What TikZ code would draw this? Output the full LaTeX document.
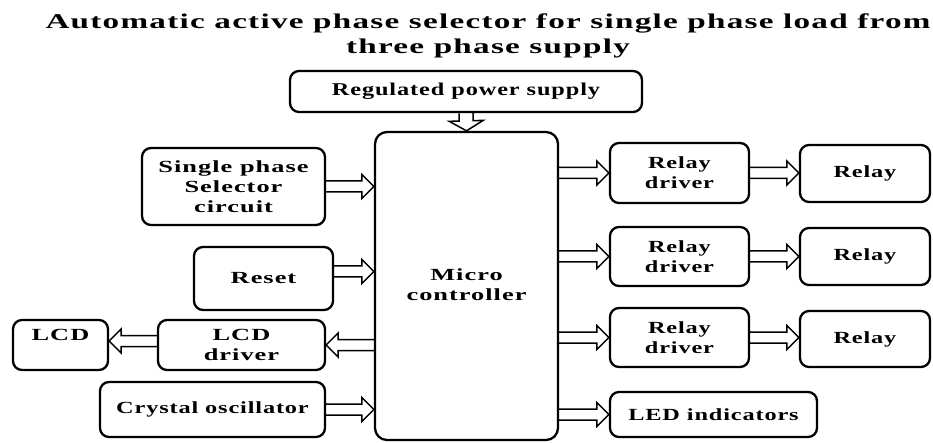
\documentclass[tikz,border=0pt]{standalone}
\usepackage{fontspec}
\setmainfont{Liberation Serif}
\newfontfamily\titlefont{Liberation Serif}[FakeStretch=1.58, LetterSpace=6]
\newfontfamily\boxfont{Liberation Serif}[FakeStretch=1.35, LetterSpace=5]
\newfontfamily\boxfontM{Liberation Serif}[FakeStretch=1.43, LetterSpace=5]
\newfontfamily\boxfontW{Liberation Serif}[FakeStretch=1.55, LetterSpace=6]
\usetikzlibrary{calc}
\def\dgap{5.5pt}\def\dhead{12pt}\def\dlen{12pt}
\begin{document}
\begin{tikzpicture}[x=1pt, y=-1pt,
  box/.style={draw, line width=2.3pt, rounded corners=9pt, inner sep=0pt, align=center,
    font=\boxfontM\bfseries\fontsize{17}{20}\selectfont},
  wide/.style={font=\boxfontW\bfseries\fontsize{17}{20}\selectfont},
  ttl/.style={font=\titlefont\bfseries\fontsize{21}{25}\selectfont, anchor=base, inner sep=0pt},
  big/.code={\def\dgap{7pt}\def\dhead{17pt}\def\dlen{10pt}},
  dbl/.style={line width=1.5pt, line join=miter, to path={
    (\tikztostart) coordinate (dA) (\tikztotarget) coordinate (dB)
    ($(dB)!\dlen!(dA)$) coordinate (dH)
    ($(dA)!\dgap!90:(dB)$) -- ($(dH)!\dgap!90:(dB)$) -- ($(dH)!\dhead!90:(dB)$) -- (dB)
    -- ($(dH)!\dhead!-90:(dB)$) -- ($(dH)!\dgap!-90:(dB)$) -- ($(dA)!\dgap!-90:(dB)$)}}]
\useasboundingbox (0,0) rectangle (933,443);

% title
\node[ttl] (t1) at (488,29) {Automatic active phase selector for single phase load from};
\node[ttl] (t2) at (488,54) {three phase supply};

% boxes
\node[box, minimum width=352pt, minimum height=41pt, font=\boxfont\bfseries\fontsize{18}{21}\selectfont] (reg) at (466,91.5) {Regulated power supply};
\node[box, wide, rounded corners=12pt, minimum width=183pt, minimum height=308pt] (micro) at (466.5,286)
  {\raisebox{-5pt}{\begin{tabular}{@{}c@{}}Micro\\controller\end{tabular}}};

\node[box, wide, minimum width=183pt, minimum height=77pt] (sel) at (233.5,186.5) {Single phase\\Selector\\circuit};
\node[box, wide, minimum width=139pt, minimum height=63pt] (reset) at (263.5,278.5) {Reset};
\node[box, wide, minimum width=167pt, minimum height=50pt] (lcddrv) at (241.5,345) {LCD\\driver};
\node[box, wide, minimum width=95pt, minimum height=50pt] (lcd) at (60.5,345) {\raisebox{5pt}[0pt][0pt]{LCD}};
\node[box, minimum width=225pt, minimum height=55pt] (xtal) at (212.5,409.5) {Crystal oscillator};

\node[box, minimum width=139pt, minimum height=60pt] (rd1) at (679.5,173) {Relay\\driver};
\node[box, minimum width=130pt, minimum height=57pt] (rl1) at (865,173.5) {Relay};
\node[box, minimum width=139pt, minimum height=59pt] (rd2) at (679.5,256.5) {Relay\\driver};
\node[box, minimum width=130pt, minimum height=57pt] (rl2) at (865,256.5) {Relay};
\node[box, minimum width=139pt, minimum height=59pt] (rd3) at (679.5,337.5) {Relay\\driver};
\node[box, minimum width=130pt, minimum height=56pt] (rl3) at (865,339) {Relay};
\node[box, minimum width=207pt, minimum height=45pt] (led) at (713.5,414.5) {LED indicators};

% connectors
\coordinate (rs) at ([yshift=7pt]reset.east);
\coordinate (ld) at ([yshift=4pt]lcddrv.west);
\draw[big, dbl] (reg.south) to (micro.north);
\draw[dbl] (sel.east) to (sel.east -| micro.west);
\draw[dbl] (rs) to (rs -| micro.west);
\draw[dbl] (lcddrv.east -| micro.west) to (lcddrv.east);
\draw[dbl] (ld) to (ld -| lcd.east);
\draw[dbl] (xtal.east) to (xtal.east -| micro.west);

\draw[dbl] (rd1.west -| micro.east) to (rd1.west);
\draw[dbl] (rd1.east) to (rd1.east -| rl1.west);
\draw[dbl] (rd2.west -| micro.east) to (rd2.west);
\draw[dbl] (rd2.east) to (rd2.east -| rl2.west);
\draw[dbl] (rd3.west -| micro.east) to (rd3.west);
\draw[dbl] (rd3.east) to (rd3.east -| rl3.west);
\draw[dbl] (led.west -| micro.east) to (led.west);
\end{tikzpicture}
\end{document}
